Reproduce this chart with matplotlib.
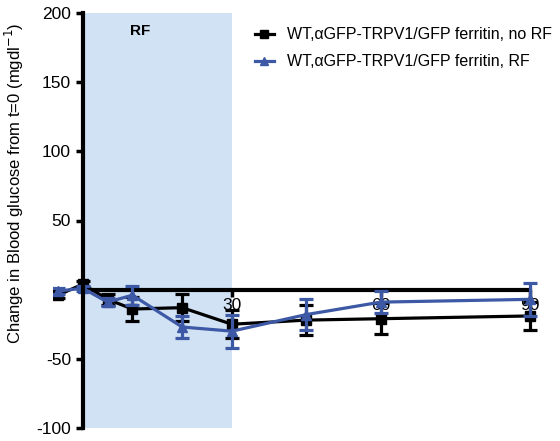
import matplotlib.pyplot as plt
from matplotlib.lines import Line2D

plt.rcParams["font.family"] = ["Liberation Sans", "DejaVu Sans"]
plt.rcParams["axes.unicode_minus"] = False

# time (min) and change in blood glucose
minutes = [-5, 0, 5, 10, 20, 30, 45, 60, 90]
no_rf = [-4, 4, -7, -14, -13, -25, -22, -21, -19]
no_rf_err = [2, 2, 4, 9, 10, 10, 11, 11, 10]
rf = [-1, 1, -9, -4, -27, -30, -18, -9, -7]
rf_err = [2, 2, 3, 7, 8, 12, 11, 8, 12]

x_ticks = [30, 60, 90]
y_ticks = [-100, -50, 50, 100, 150, 200]
labels = ["WT,αGFP-TRPV1/GFP ferritin, no RF", "WT,αGFP-TRPV1/GFP ferritin, RF"]

black = "black"
blue = "#3d59a6"

fig = plt.figure(figsize=(5.6, 4.41), dpi=100)
ax = fig.add_axes([0.0946, 0.0295, 0.8694, 0.941])

ax.axvspan(0, 30, color="#d0e2f4", zorder=0, lw=0)
ax.text(11.5, 187, "RF", fontsize=11, fontweight="bold", ha="center", va="center")

ax.errorbar(minutes, no_rf, yerr=no_rf_err, color=black, marker="s", ms=7, lw=2.3,
            elinewidth=2.3, capsize=5, capthick=2.3, zorder=3)
ax.errorbar(minutes, rf, yerr=rf_err, color=blue, marker="^", ms=7, lw=2.3,
            elinewidth=2.3, capsize=5, capthick=2.3, zorder=4)

ax.set_xlim(-6, 92)
ax.set_ylim(-100, 200)
ax.spines["top"].set_visible(False)
ax.spines["right"].set_visible(False)
ax.spines["left"].set_position(("data", 0))
ax.spines["bottom"].set_position(("data", 0))
ax.spines["left"].set_linewidth(3)
ax.spines["bottom"].set_linewidth(3)
ax.spines["left"].set_bounds(-100, 200)
ax.spines["bottom"].set_bounds(0, 90)
ax.spines["left"].set_zorder(5)
ax.spines["bottom"].set_zorder(2)

ax.set_xticks(x_ticks)
ax.set_yticks(y_ticks)
ax.tick_params(axis="both", direction="out", length=5, width=2.5, labelsize=12.5)
ax.tick_params(axis="x", pad=1)

ax.set_ylabel("Change in Blood glucose from t=0 (mgdl$^{-1}$)", fontsize=12)
ax.yaxis.set_label_coords(-0.055, 0.59)

handles = [Line2D([], [], color=black, marker="s", ms=6, lw=2.3),
           Line2D([], [], color=blue, marker="^", ms=6, lw=2.3)]
ax.legend(handles, labels, loc="upper left", bbox_to_anchor=(0.385, 1.0), frameon=False,
          fontsize=11.5, handlelength=1.2, handletextpad=0.8, labelspacing=0.75)

fig.savefig("out.png", dpi=100)
